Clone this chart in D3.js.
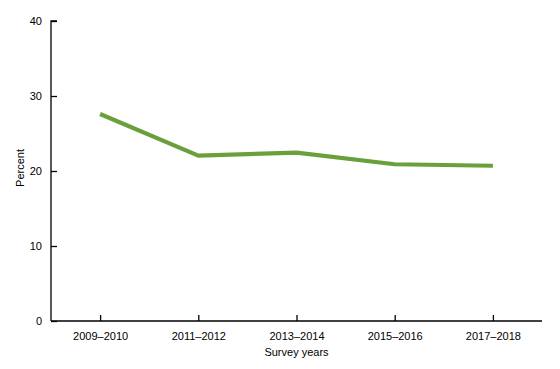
<!DOCTYPE html>
<html>
<head>
<meta charset="utf-8">
<script src="https://d3js.org/d3.v7.min.js"></script>
<style>
  body { margin: 0; background: #fff; }
  text { font-family: "Liberation Sans", Arial, sans-serif; fill: #000; }
</style>
</head>
<body>
<div id="chart"></div>
<script>
// survey periods and percent values
const years = ["2009\u20132010", "2011\u20132012", "2013\u20132014", "2015\u20132016", "2017\u20132018"];
const percent = [27.6, 22.05, 22.45, 20.9, 20.7];
const yTicks = [0, 10, 20, 30, 40];

const width = 560, height = 369;
const margin = {top: 21, right: 18, bottom: 48, left: 51};

const svg = d3.select("#chart").append("svg")
  .attr("width", width)
  .attr("height", height);

const x = d3.scalePoint()
  .domain(years)
  .range([margin.left, width - margin.right])
  .padding(0.5);

const y = d3.scaleLinear()
  .domain([0, 40])
  .range([height - margin.bottom, margin.top]);

// y axis, ticks pointing inward
const yAxis = svg.append("g")
  .attr("transform", `translate(${margin.left},0)`)
  .call(d3.axisRight(y).tickValues(yTicks).tickSize(6).tickFormat(d3.format("d")));
yAxis.select(".domain").attr("d", `M6,${y(40)}H0V${y(0)}`).attr("stroke-width", 1.3);
yAxis.selectAll(".tick line").attr("stroke-width", 1.3);
yAxis.selectAll(".tick text")
  .attr("x", -9).attr("text-anchor", "end")
  .style("font-size", "11px");

// x axis, ticks pointing up
const xAxis = svg.append("g")
  .attr("transform", `translate(0,${y(0)})`)
  .call(d3.axisTop(x).tickSize(6));
xAxis.select(".domain").attr("d", `M${margin.left},0H${width - margin.right}`).attr("stroke-width", 1.3);
xAxis.selectAll(".tick line").attr("stroke-width", 1.3);
xAxis.selectAll(".tick text")
  .attr("y", 11).attr("dy", "0.71em")
  .style("font-size", "11px");

// axis titles
svg.append("text")
  .attr("transform", `translate(24,168) rotate(-90)`)
  .attr("text-anchor", "middle")
  .style("font-size", "11px")
  .text("Percent");

svg.append("text")
  .attr("x", (margin.left + width - margin.right) / 2)
  .attr("y", 356)
  .attr("text-anchor", "middle")
  .style("font-size", "11px")
  .text("Survey years");

// data line
const line = d3.line()
  .x((d, i) => x(years[i]))
  .y(d => y(d));

svg.append("path")
  .datum(percent)
  .attr("fill", "none")
  .attr("stroke", "#69a03c")
  .attr("stroke-width", 4.2)
  .attr("stroke-linejoin", "round")
  .attr("d", line);
</script>
</body>
</html>
